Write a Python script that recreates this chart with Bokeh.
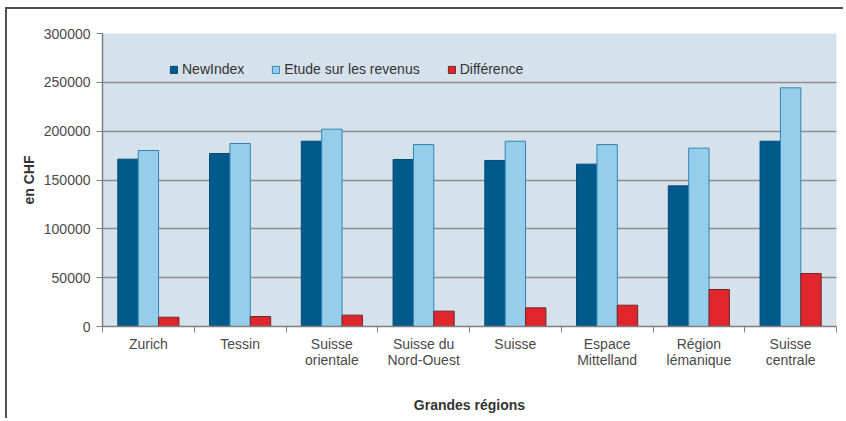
from bokeh.plotting import figure
from bokeh.models import FixedTicker, NumeralTickFormatter, Legend, LegendItem, Range1d
from bokeh.embed import file_html
from bokeh.resources import INLINE

categories = ["Zurich", "Tessin", "Suisse\norientale", "Suisse du\nNord-Ouest", "Suisse",
              "Espace\nMittelland", "Région\nlémanique", "Suisse\ncentrale"]
newindex = [171300, 177100, 189700, 171000, 170000, 166200, 144000, 189700]
etude = [180200, 187400, 202000, 186300, 189700, 186300, 182600, 244400]
difference = [9500, 10200, 11600, 15700, 19100, 21800, 37900, 54200]
series_names = ["NewIndex", "Etude sur les revenus", "Différence"]
y_ticks = [0, 50000, 100000, 150000, 200000, 250000, 300000]

FONT = "Liberation Sans"
n = len(categories)
centers = [i + 0.5 for i in range(n)]

p = figure(width=838, height=411, output_backend="svg", toolbar_location=None,
           x_range=Range1d(0, n), y_range=Range1d(0, 300000),
           min_border_left=95, min_border_right=9, min_border_top=24, min_border_bottom=94)
p.styles = {"border-top": "2px solid #505050", "border-left": "2px solid #505050",
            "margin-left": "5px", "margin-top": "7px"}

p.background_fill_color = "#d5e1eb"
p.border_fill_color = "white"
p.outline_line_color = None

bw = 0.222
series = [newindex, etude, difference]
fills = ["#005b8c", "#95cdeb", "#e1252d"]
lines = ["#004a73", "#2f86b4", "#6a2a2a"]
offsets = [-bw, 0, bw]
renderers = []
for vals, fc, lc, off in zip(series, fills, lines, offsets):
    r = p.vbar(x=[c + off for c in centers], top=vals, width=bw, bottom=0,
               fill_color=fc, line_color=lc, line_width=1)
    renderers.append(r)

# axes
p.xaxis.ticker = FixedTicker(ticks=centers, minor_ticks=list(range(n + 1)))
p.xaxis.major_label_overrides = {c: lab for c, lab in zip(centers, categories)}
p.xaxis.major_tick_line_color = None
p.xaxis.major_tick_in = 0
p.xaxis.major_tick_out = 0
p.xaxis.minor_tick_line_color = "#808080"
p.xaxis.minor_tick_in = 0
p.xaxis.minor_tick_out = 6
p.xaxis.axis_line_color = "#808080"
p.xaxis.axis_line_width = 1.5
p.xaxis.major_label_standoff = 3
p.xaxis.major_label_text_font = FONT
p.xaxis.major_label_text_font_size = "14px"
p.xaxis.major_label_text_line_height = 1.05
p.xaxis.major_label_text_color = "#4a4a4a"
p.xaxis.axis_label = "Grandes régions"
p.xaxis.axis_label_text_font = FONT
p.xaxis.axis_label_text_font_size = "14px"
p.xaxis.axis_label_text_font_style = "bold"
p.xaxis.axis_label_text_color = "#333333"
p.xaxis.axis_label_standoff = 26

p.yaxis.ticker = FixedTicker(ticks=y_ticks)
p.yaxis.formatter = NumeralTickFormatter(format="0")
p.yaxis.major_tick_in = 0
p.yaxis.major_tick_out = 6
p.yaxis.minor_tick_line_color = None
p.yaxis.major_tick_line_color = "#808080"
p.yaxis.axis_line_color = "#808080"
p.yaxis.axis_line_width = 1.5
p.yaxis.major_label_standoff = 6
p.yaxis.major_label_text_font = FONT
p.yaxis.major_label_text_font_size = "14px"
p.yaxis.major_label_text_color = "#4a4a4a"
p.yaxis.axis_label = "en CHF"
p.yaxis.axis_label_text_font = FONT
p.yaxis.axis_label_text_font_size = "14px"
p.yaxis.axis_label_text_font_style = "bold"
p.yaxis.axis_label_text_color = "#333333"
p.yaxis.axis_label_standoff = 4

p.xgrid.grid_line_color = None
p.ygrid.grid_line_color = "#8e8e8e"
p.ygrid.grid_line_width = 1.5

legend = Legend(items=[LegendItem(label=nm, renderers=[r]) for nm, r in zip(series_names, renderers)],
                orientation="horizontal", location=(67, 249),
                glyph_width=9, glyph_height=9, label_standoff=4, spacing=27,
                padding=0, margin=0, border_line_color=None, background_fill_alpha=0,
                label_text_font=FONT, label_text_font_size="14px", label_text_color="#333333",
                label_height=14)
p.add_layout(legend, "center")

open("out.html", "w").write(file_html(p, INLINE))
